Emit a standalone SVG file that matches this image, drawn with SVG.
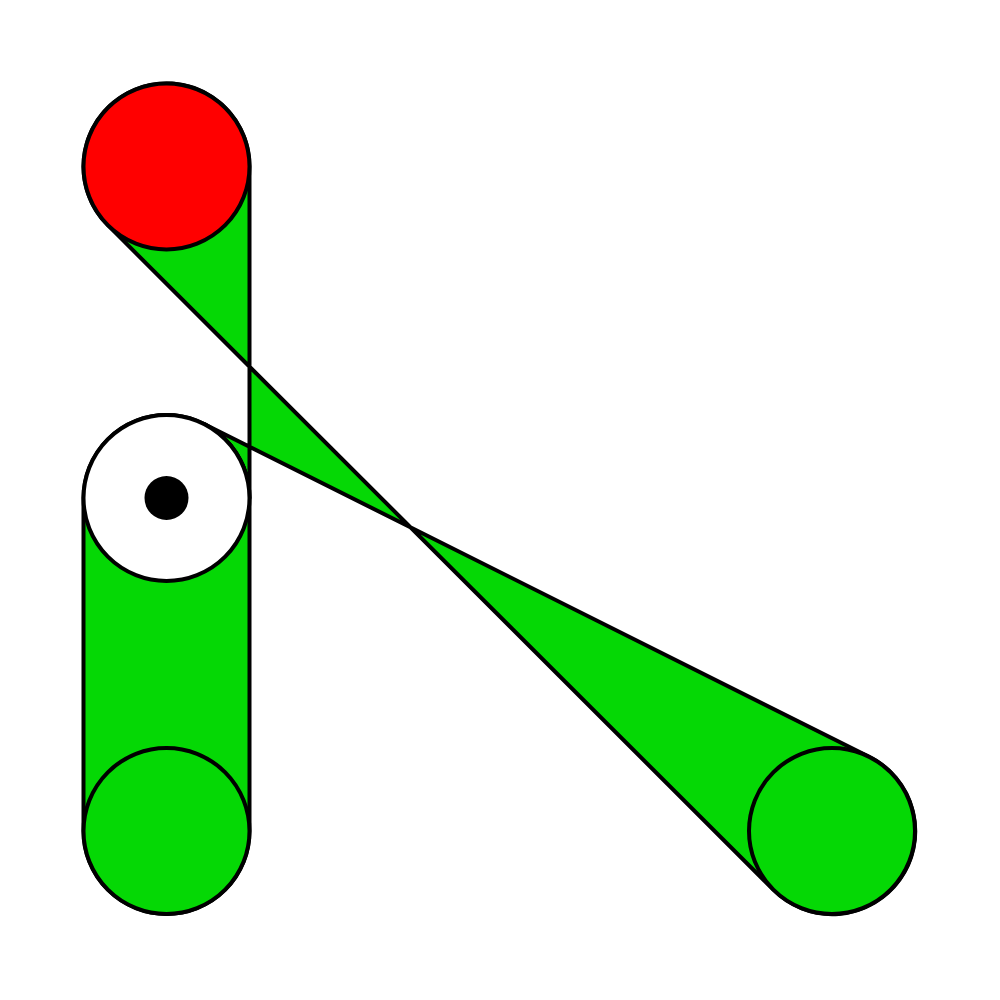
<svg xmlns="http://www.w3.org/2000/svg" width="1000" height="1000" viewBox="0 0 1000 1000">
<style>
.belt{fill:#05d805;stroke:#000;stroke-width:4;stroke-linejoin:round}
.pulley{stroke:#000;stroke-width:4}
</style>
<rect width="1000" height="1000" fill="#fff"/>
<g id="connectors">
<path id="belt-main" class="belt" fill-rule="nonzero" d="M249.5,166.5 L249.5,498 A83,83 0 0 0 203.6,423.8 L869.1,756.8 A83,83 0 1 1 773.4,889.7 L107.9,225.2 A83,83 0 1 1 249.5,166.5 Z"/>
<path id="belt-vertical" class="belt" d="M249.5,498 L249.5,831 A83,83 0 0 1 83.5,831 L83.5,498 A83,83 0 0 1 249.5,498 Z"/>
</g>
<g id="pulley-red"><circle class="pulley" cx="166.5" cy="166.5" r="83" fill="#ff0000"/></g>
<g id="pulley-white"><circle class="pulley" cx="166.5" cy="498" r="83" fill="#fff"/><circle cx="166.5" cy="498" r="22" fill="#000"/></g>
<g id="pulley-bottom"><circle class="pulley" cx="166.5" cy="831" r="83" fill="#05d805"/></g>
<g id="pulley-right"><circle class="pulley" cx="832" cy="831" r="83" fill="#05d805"/></g>
</svg>
